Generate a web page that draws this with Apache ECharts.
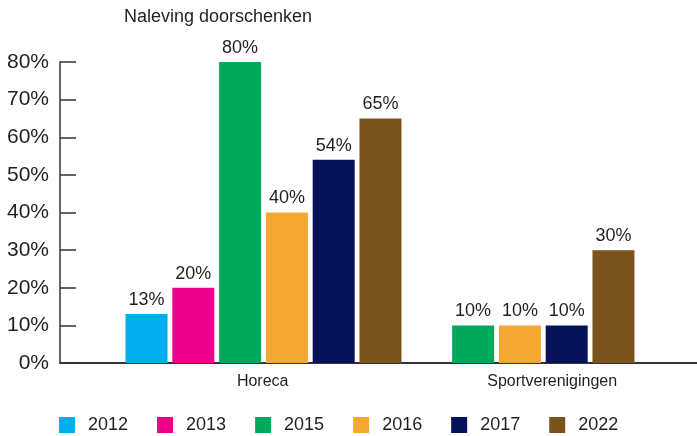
<!DOCTYPE html>
<html>
<head>
<meta charset="utf-8">
<script src="https://cdn.jsdelivr.net/npm/echarts@6/dist/echarts.min.js"></script>
<style>html,body{margin:0;padding:0;background:#fff}#c{width:697px;height:436px}</style>
</head>
<body>
<div id="c"></div>
<script>
var categories = ['Horeca', 'Sportverenigingen'];
var years = ['2012', '2013', '2015', '2016', '2017', '2022'];
var horeca = [13, 20, 80, 40, 54, 65];
var sport = [null, null, 10, 10, 10, 30];
var colors = ['#00AEEF', '#EC008C', '#00A95C', '#F5A733', '#07125A', '#7B531C'];
var yTicks = [0, 10, 20, 30, 40, 50, 60, 70, 80];

var FONT = '"Liberation Sans", Arial, sans-serif';
var TXT = '#231F20';

// frame axis slots: category labels placed under their bar groups
var frameSlots = [];
for (var i = 0; i < 11; i++) frameSlots.push('');
frameSlots[3] = categories[0];
frameSlots[8] = categories[1];

var series = years.map(function (y, i) {
  return {
    name: y,
    type: 'bar',
    xAxisIndex: 1,
    yAxisIndex: 1,
    clip: false,
    barWidth: 42,
    barGap: '11.4%',
    itemStyle: { color: colors[i] },
    label: {
      show: true,
      position: 'top',
      distance: 5,
      formatter: '{c}%',
      fontSize: 18,
      fontFamily: FONT,
      color: TXT
    },
    data: [horeca[i], sport[i]]
  };
});

var chart = echarts.init(document.getElementById('c'), null, { renderer: 'canvas' });
chart.setOption({
  animation: false,
  backgroundColor: '#fff',
  title: {
    text: 'Naleving doorschenken',
    left: 124,
    top: 8,
    padding: 0,
    textStyle: { fontSize: 18, fontWeight: 'normal', fontFamily: FONT, color: TXT }
  },
  legend: {
    data: years,
    left: 59,
    top: 416,
    padding: 0,
    icon: 'rect',
    itemWidth: 16,
    itemHeight: 16,
    itemGap: 29,
    textStyle: { fontSize: 18, fontFamily: FONT, color: TXT, padding: [0, 0, 0, 8] }
  },
  grid: [
    { left: 60, right: 0, top: 62, bottom: 73, containLabel: false },
    { left: 147, right: 84, top: 62, bottom: 73, containLabel: false }
  ],
  xAxis: [
    {
      gridIndex: 0,
      type: 'category',
      data: frameSlots,
      axisLine: { show: true, lineStyle: { color: '#333', width: 2 } },
      axisTick: { show: false },
      axisLabel: { interval: 0, fontSize: 16, fontFamily: FONT, color: TXT, margin: 11 },
      splitLine: { show: false }
    },
    {
      gridIndex: 1,
      type: 'category',
      data: categories,
      show: false
    }
  ],
  yAxis: [
    {
      gridIndex: 0,
      type: 'value',
      min: yTicks[0],
      max: yTicks[yTicks.length - 1],
      interval: 10,
      axisLine: { show: true, lineStyle: { color: '#333', width: 1.5 } },
      axisTick: { show: true, inside: true, length: 16, lineStyle: { color: '#333', width: 1.5 } },
      axisLabel: { formatter: '{value}%', fontSize: 21, fontFamily: FONT, color: TXT, margin: 11, padding: [6, 0, 0, 0] },
      splitLine: { show: false }
    },
    {
      gridIndex: 1,
      type: 'value',
      min: yTicks[0],
      max: yTicks[yTicks.length - 1],
      show: false,
      splitLine: { show: false }
    }
  ],
  series: series
});
</script>
</body>
</html>
